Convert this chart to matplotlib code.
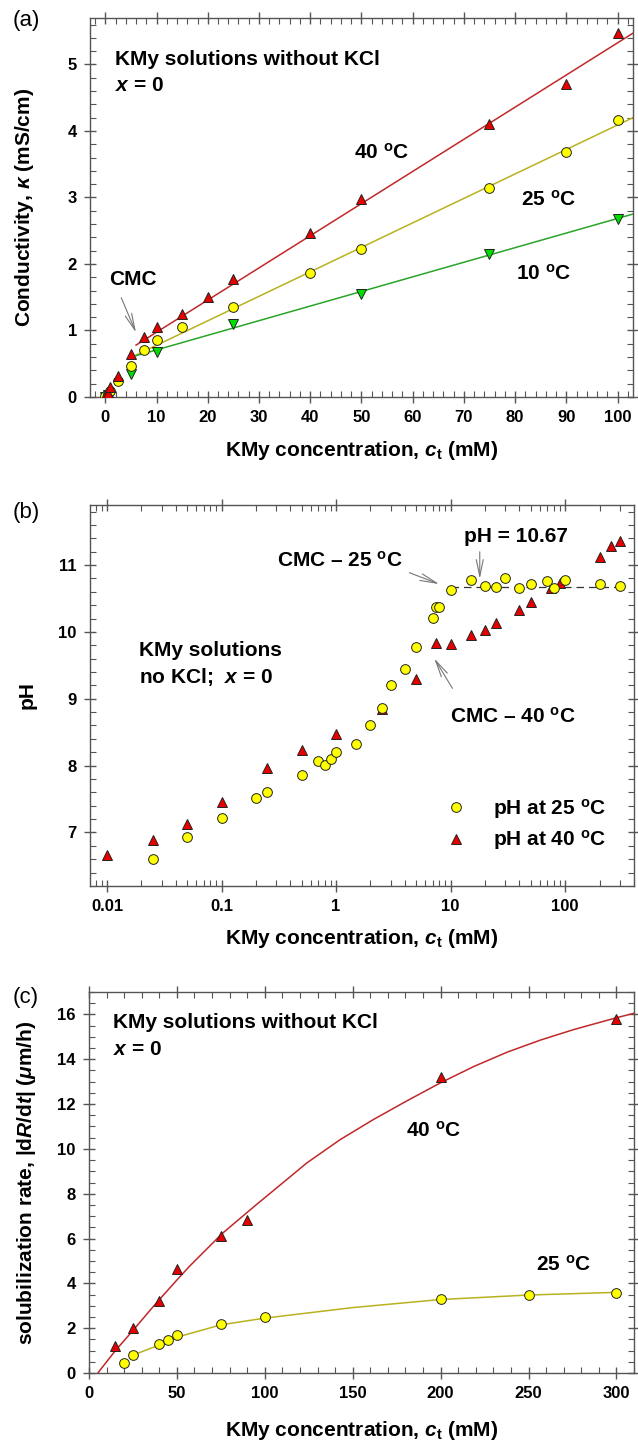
import numpy as np
import matplotlib
matplotlib.use("Agg")
import matplotlib.pyplot as plt
import matplotlib.ticker as ticker

plt.rcParams['font.family'] = ['Liberation Sans', 'DejaVu Sans']
plt.rcParams['font.weight'] = 'bold'
plt.rcParams['mathtext.fontset'] = 'custom'
plt.rcParams['mathtext.rm'] = 'Liberation Sans:bold'
plt.rcParams['mathtext.it'] = 'Liberation Sans:italic:bold'
plt.rcParams['mathtext.bf'] = 'Liberation Sans:bold'

# ---- (a) conductivity vs concentration
ct_40 = [0, 0.5, 1, 2.5, 5, 7.5, 10, 15, 20, 25, 40, 50, 75, 90, 100]
kappa_40 = [0.01, 0.06, 0.15, 0.31, 0.64, 0.90, 1.05, 1.24, 1.50, 1.77, 2.47, 2.97, 4.10, 4.70, 5.48]
ct_25 = [0, 0.5, 1, 2.5, 5, 7.5, 10, 15, 25, 40, 50, 75, 90, 100]
kappa_25 = [0.01, 0.04, 0.09, 0.24, 0.47, 0.70, 0.85, 1.05, 1.36, 1.86, 2.22, 3.14, 3.69, 4.17]
ct_10 = [0, 0.5, 5, 10, 25, 50, 75, 100]
kappa_10 = [0.0, 0.03, 0.35, 0.68, 1.10, 1.55, 2.15, 2.68]
# fitted lines above the CMC (endpoints)
fit40_x = [6.0, 103]
fit40_y = [0.78, 5.47]
fit25_x = [6.0, 103]
fit25_y = [0.63, 4.20]
fit10_x = [6.0, 103]
fit10_y = [0.62, 2.75]

# ---- (b) pH vs concentration
ph25_ct = [0.025, 0.05, 0.1, 0.2, 0.25, 0.5, 0.7, 0.8, 0.9, 1.0, 1.5, 2.0, 2.5, 3.0, 4.0,
           5.0, 7.0, 7.4, 8.0, 10, 15, 20, 25, 30, 40, 50, 70, 80, 100, 200, 300]
ph25 = [6.61, 6.93, 7.21, 7.52, 7.60, 7.86, 8.07, 8.01, 8.10, 8.20, 8.33, 8.61, 8.86, 9.21, 9.44,
        9.78, 10.21, 10.37, 10.37, 10.63, 10.78, 10.69, 10.67, 10.81, 10.66, 10.71, 10.76, 10.65,
        10.77, 10.71, 10.68]
ph40_ct = [0.01, 0.025, 0.05, 0.1, 0.25, 0.5, 1.0, 2.5, 5, 7.5, 10, 15, 20, 25, 40, 50,
           75, 90, 200, 250, 300]
ph40 = [6.67, 6.89, 7.13, 7.45, 7.96, 8.24, 8.48, 8.84, 9.29, 9.83, 9.82, 9.95, 10.03, 10.13,
        10.33, 10.45, 10.65, 10.73, 11.12, 11.28, 11.36]
ph_plateau_x = [10, 300]
ph_plateau = [10.67, 10.67]

# ---- (c) solubilization rate
sol40_ct = [15, 25, 40, 50, 75, 90, 200, 300]
sol40 = [1.19, 2.02, 3.22, 4.63, 6.12, 6.83, 13.22, 15.80]
sol25_ct = [20, 25, 40, 45, 50, 75, 100, 200, 250, 300]
sol25 = [0.43, 0.80, 1.31, 1.48, 1.69, 2.20, 2.49, 3.30, 3.50, 3.59]
# fitted curves
curve40_x = [5, 15, 25, 38, 50, 57, 76, 95, 112, 124, 143, 162, 181, 200, 219, 238, 257,
             276, 300, 310]
curve40_y = [0.0, 1.0, 1.9, 3.1, 4.15, 4.75, 6.24, 7.5, 8.6, 9.38, 10.42, 11.32, 12.15, 12.95,
             13.68, 14.32, 14.86, 15.33, 15.85, 16.05]
curve25_x = [25, 40, 50, 75, 100, 150, 200, 250, 300]
curve25_y = [0.80, 1.25, 1.60, 2.15, 2.45, 2.92, 3.28, 3.48, 3.60]

RED = '#e60000'
YEL = '#ffff00'
GRN = '#00dd00'
L_RED = '#c0282a'
L_YEL = '#b8b21e'
L_GRN = '#2aa52a'
EDGE = '#222222'
AXC = '#555555'
ARR = '#777777'

fig = plt.figure(figsize=(6.38, 14.45), dpi=100)
axa = fig.add_axes([0.141, 0.7253, 0.851, 0.2623])
axb = fig.add_axes([0.141, 0.3869, 0.8527, 0.2637])
axc = fig.add_axes([0.1395, 0.0498, 0.8542, 0.2637])

FS_TXT = 15
FS_LAB = 15


def style(ax):
    for s in ax.spines.values():
        s.set_color(AXC)
        s.set_linewidth(1.0)
    ax.tick_params(which='major', direction='inout', length=9, width=1.0, color=AXC,
                   labelsize=12, pad=5, top=True, right=True)
    ax.tick_params(which='minor', direction='in', length=4, width=0.8, color=AXC,
                   top=True, right=True)
    for lab in ax.get_xticklabels() + ax.get_yticklabels():
        lab.set_fontweight('bold')


xlab = r'KMy concentration, $c_\mathrm{t}$ (mM)'
deg = r'$^\mathrm{o}$C'

# (a)
axa.plot(fit40_x, fit40_y, color=L_RED, lw=1.1, zorder=2)
axa.plot(fit25_x, fit25_y, color=L_YEL, lw=1.1, zorder=2)
axa.plot(fit10_x, fit10_y, color=L_GRN, lw=1.1, zorder=2)
axa.plot(ct_10, kappa_10, 'v', ms=7, mfc=GRN, mec=EDGE, mew=0.7, zorder=3)
axa.plot(ct_25, kappa_25, 'o', ms=7, mfc=YEL, mec=EDGE, mew=0.7, zorder=4)
axa.plot(ct_40, kappa_40, '^', ms=7, mfc=RED, mec=EDGE, mew=0.7, zorder=5)
axa.set_xlim(-3, 103)
axa.set_ylim(0, 5.7)
axa.xaxis.set_major_locator(ticker.MultipleLocator(10))
axa.xaxis.set_minor_locator(ticker.MultipleLocator(2))
axa.yaxis.set_major_locator(ticker.MultipleLocator(1))
axa.yaxis.set_minor_locator(ticker.MultipleLocator(0.2))
axa.set_xlabel(xlab, fontsize=FS_LAB, fontweight='bold', va='center')
axa.set_ylabel(r'Conductivity, $\kappa$ (mS/cm)', fontsize=FS_LAB, fontweight='bold',
               va='center')
axa.xaxis.set_label_coords(0.5, -0.14)
axa.yaxis.set_label_coords(-0.12, 0.5)
axa.text(0.046, 0.889, 'KMy solutions without KCl', transform=axa.transAxes,
         fontsize=FS_TXT, va='center')
axa.text(0.046, 0.823, r'$x$ = 0', transform=axa.transAxes, fontsize=FS_TXT, va='center')
axa.text(53.9, 3.68, '40 ' + deg, fontsize=FS_TXT, ha='center', va='center')
axa.text(86.6, 2.97, '25 ' + deg, fontsize=FS_TXT, ha='center', va='center')
axa.text(85.6, 1.86, '10 ' + deg, fontsize=FS_TXT, ha='center', va='center')
arrow = dict(arrowstyle='->,head_length=1.2,head_width=0.25', color=ARR, lw=0.8)
axa.annotate('', xy=(6.2, 0.93), xytext=(2.9, 1.53), arrowprops=arrow)
axa.text(5.4, 1.76, 'CMC', fontsize=FS_TXT, ha='center', va='center')
style(axa)

# (b)
axb.set_xscale('log')
axb.plot(ph_plateau_x, ph_plateau, '--', color='#333333', lw=0.9, dashes=(6, 4), zorder=2)
axb.plot(ph40_ct, ph40, '^', ms=7, mfc=RED, mec=EDGE, mew=0.7, zorder=3,
         label='pH at 40 ' + deg)
axb.plot(ph25_ct, ph25, 'o', ms=7, mfc=YEL, mec=EDGE, mew=0.7, zorder=4,
         label='pH at 25 ' + deg)
axb.set_xlim(0.0071, 400)
axb.set_ylim(6.2, 11.9)
axb.xaxis.set_major_locator(ticker.LogLocator(base=10, numticks=10))
axb.xaxis.set_minor_locator(ticker.LogLocator(base=10, subs=np.arange(2, 10), numticks=20))
axb.xaxis.set_minor_formatter(ticker.NullFormatter())
axb.xaxis.set_major_formatter(ticker.FuncFormatter(lambda v, p: f'{v:g}'))
axb.yaxis.set_major_locator(ticker.MultipleLocator(1))
axb.yaxis.set_minor_locator(ticker.MultipleLocator(0.2))
axb.set_xlabel(xlab, fontsize=FS_LAB, fontweight='bold', va='center')
axb.set_ylabel('pH', fontsize=FS_LAB, fontweight='bold', va='center')
axb.xaxis.set_label_coords(0.5, -0.137)
axb.yaxis.set_label_coords(-0.116, 0.5)
axb.text(0.09, 0.617, 'KMy solutions', transform=axb.transAxes, fontsize=FS_TXT, va='center')
axb.text(0.09, 0.549, r'no KCl;  $x$ = 0', transform=axb.transAxes, fontsize=FS_TXT,
         va='center')
axb.annotate('', xy=(8.4, 10.70), xytext=(4.15, 10.9), arrowprops=arrow)
axb.text(1.08, 11.06, 'CMC \u2013 25 ' + deg, fontsize=FS_TXT, ha='center', va='center')
axb.annotate('', xy=(18, 10.75), xytext=(18, 11.24), arrowprops=arrow)
axb.text(37, 11.43, 'pH = 10.67', fontsize=FS_TXT, ha='center', va='center')
axb.annotate('', xy=(7.0, 9.64), xytext=(10.7, 9.12), arrowprops=arrow)
axb.text(35, 8.73, 'CMC \u2013 40 ' + deg, fontsize=FS_TXT, ha='center', va='center')
h, l = axb.get_legend_handles_labels()
axb.legend(h[::-1], l[::-1], loc='lower right', bbox_to_anchor=(0.975, 0.05), frameon=False,
           fontsize=FS_TXT, handlelength=2.0, handletextpad=0.75, labelspacing=0.35,
           borderpad=0.2)
style(axb)

# (c)
axc.plot(curve40_x, curve40_y, color=L_RED, lw=1.1, zorder=2)
axc.plot(curve25_x, curve25_y, color=L_YEL, lw=1.1, zorder=2)
axc.plot(sol25_ct, sol25, 'o', ms=7, mfc=YEL, mec=EDGE, mew=0.7, zorder=4)
axc.plot(sol40_ct, sol40, '^', ms=7, mfc=RED, mec=EDGE, mew=0.7, zorder=5)
axc.set_xlim(0, 310)
axc.set_ylim(0, 17)
axc.xaxis.set_major_locator(ticker.MultipleLocator(50))
axc.xaxis.set_minor_locator(ticker.MultipleLocator(10))
axc.yaxis.set_major_locator(ticker.MultipleLocator(2))
axc.yaxis.set_minor_locator(ticker.MultipleLocator(0.5))
axc.set_xlabel(xlab, fontsize=FS_LAB, fontweight='bold', va='center')
axc.set_ylabel(r'solubilization rate, |d$R$/d$t$| ($\mu$m/h)', fontsize=FS_LAB,
               fontweight='bold', va='center')
axc.xaxis.set_label_coords(0.5, -0.152)
axc.yaxis.set_label_coords(-0.114, 0.5)
axc.text(0.044, 0.919, 'KMy solutions without KCl', transform=axc.transAxes,
         fontsize=FS_TXT, va='center')
axc.text(0.044, 0.848, r'$x$ = 0', transform=axc.transAxes, fontsize=FS_TXT, va='center')
axc.text(196, 10.8, '40 ' + deg, fontsize=FS_TXT, ha='center', va='center')
axc.text(270, 4.83, '25 ' + deg, fontsize=FS_TXT, ha='center', va='center')
style(axc)

fig.text(0.041, 0.9855, '(a)', fontsize=16, fontweight='normal', ha='center', va='center')
fig.text(0.041, 0.645, '(b)', fontsize=16, fontweight='normal', ha='center', va='center')
fig.text(0.041, 0.310, '(c)', fontsize=16, fontweight='normal', ha='center', va='center')

fig.savefig('out.png', dpi=100, facecolor='white')
